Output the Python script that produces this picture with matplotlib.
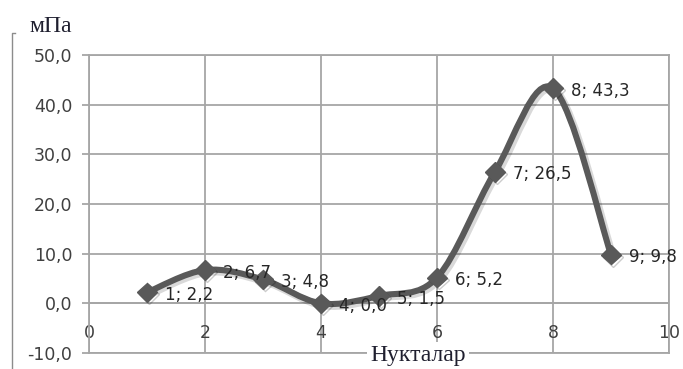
import matplotlib
matplotlib.use("Agg")
import matplotlib.pyplot as plt
import matplotlib.patheffects as pe
from matplotlib.path import Path
from matplotlib.patches import PathPatch
from matplotlib.lines import Line2D
from matplotlib.ticker import FuncFormatter

# points and measured values
points = [1, 2, 3, 4, 5, 6, 7, 8, 9]
values = [2.2, 6.7, 4.8, 0.0, 1.5, 5.2, 26.5, 43.3, 9.8]
xticks = [0, 2, 4, 6, 8, 10]
yticks = [-10, 0, 10, 20, 30, 40, 50]

line_col = "#595959"
grid_col = "#a6a6a6"
text_col = "#404040"


def smooth_path(xs, ys):
    # bezier segments with catmull-rom style control points (excel "smoothed line")
    pts = list(zip(xs, ys))
    n = len(pts)
    verts = [pts[0]]
    codes = [Path.MOVETO]
    for i in range(n - 1):
        p0 = pts[i - 1] if i > 0 else pts[i]
        p1 = pts[i]
        p2 = pts[i + 1]
        p3 = pts[i + 2] if i + 2 < n else pts[i + 1]
        c1 = (p1[0] + (p2[0] - p0[0]) / 6, p1[1] + (p2[1] - p0[1]) / 6)
        c2 = (p2[0] - (p3[0] - p1[0]) / 6, p2[1] - (p3[1] - p1[1]) / 6)
        verts += [c1, c2, p2]
        codes += [Path.CURVE4] * 3
    return Path(verts, codes)


fig = plt.figure(figsize=(6.83, 3.69), dpi=100)
ax = fig.add_axes([89 / 683, 1 - 353 / 369, 580 / 683, 298 / 369])

ax.set_xlim(0, 10)
ax.set_ylim(-10, 50)
ax.set_xticks(xticks)
ax.set_yticks(yticks)
ax.yaxis.set_major_formatter(FuncFormatter(lambda v, p: f"{v:.1f}".replace(".", ",")))
ax.grid(True, color=grid_col, linewidth=1.3)
ax.set_axisbelow(True)
for s in ax.spines.values():
    s.set_color(grid_col)
    s.set_linewidth(1.3)
ax.axhline(0, color=grid_col, linewidth=1.3, zorder=1)

ax.tick_params(axis="y", direction="out", length=5, width=1.3, color=grid_col,
               labelsize=12.5, labelcolor=text_col, pad=7)
ax.tick_params(axis="x", length=0, labelsize=12.5, labelcolor=text_col, pad=-21)

shadow = pe.Stroke(offset=(1.5, -1.5), foreground="#000000", alpha=0.15, linewidth=5.5)
curve = PathPatch(smooth_path(points, values), facecolor="none", edgecolor=line_col,
                  linewidth=4.4, capstyle="round", joinstyle="round", zorder=3,
                  path_effects=[shadow, pe.Normal()])
ax.add_patch(curve)
ax.plot(points, values, linestyle="none", marker="D", markersize=10, color=line_col,
        zorder=4, path_effects=[pe.SimpleLineShadow(offset=(1.5, -1.5), alpha=0.2,
                                                    shadow_color="black"),
                                pe.Normal()])

for x, y in zip(points, values):
    label = f"{x}; {y:.1f}".replace(".", ",")
    ax.annotate(label, (x, y), xytext=(13, -2), textcoords="offset points",
                ha="left", va="center", fontsize=12, color="#262626", zorder=5,
                annotation_clip=False)

fig.text(418 / 683, 1 - 355 / 369, "Нукталар", family="Liberation Serif", fontsize=17,
         ha="center", va="center", color="#1f1f2f",
         bbox=dict(facecolor="white", edgecolor="none", pad=2))
fig.text(51 / 683, 1 - 27 / 369, "мПа", family="Liberation Serif", fontsize=17,
         ha="center", va="center", color="#1f1f2f")

# chart area border on the left edge
fig.add_artist(Line2D([12 / 683, 12 / 683, 15 / 683], [0, 1 - 33 / 369, 1 - 33 / 369],
                      color="#8c8c8c", linewidth=1.0))

fig.savefig("out.png", dpi=100)
